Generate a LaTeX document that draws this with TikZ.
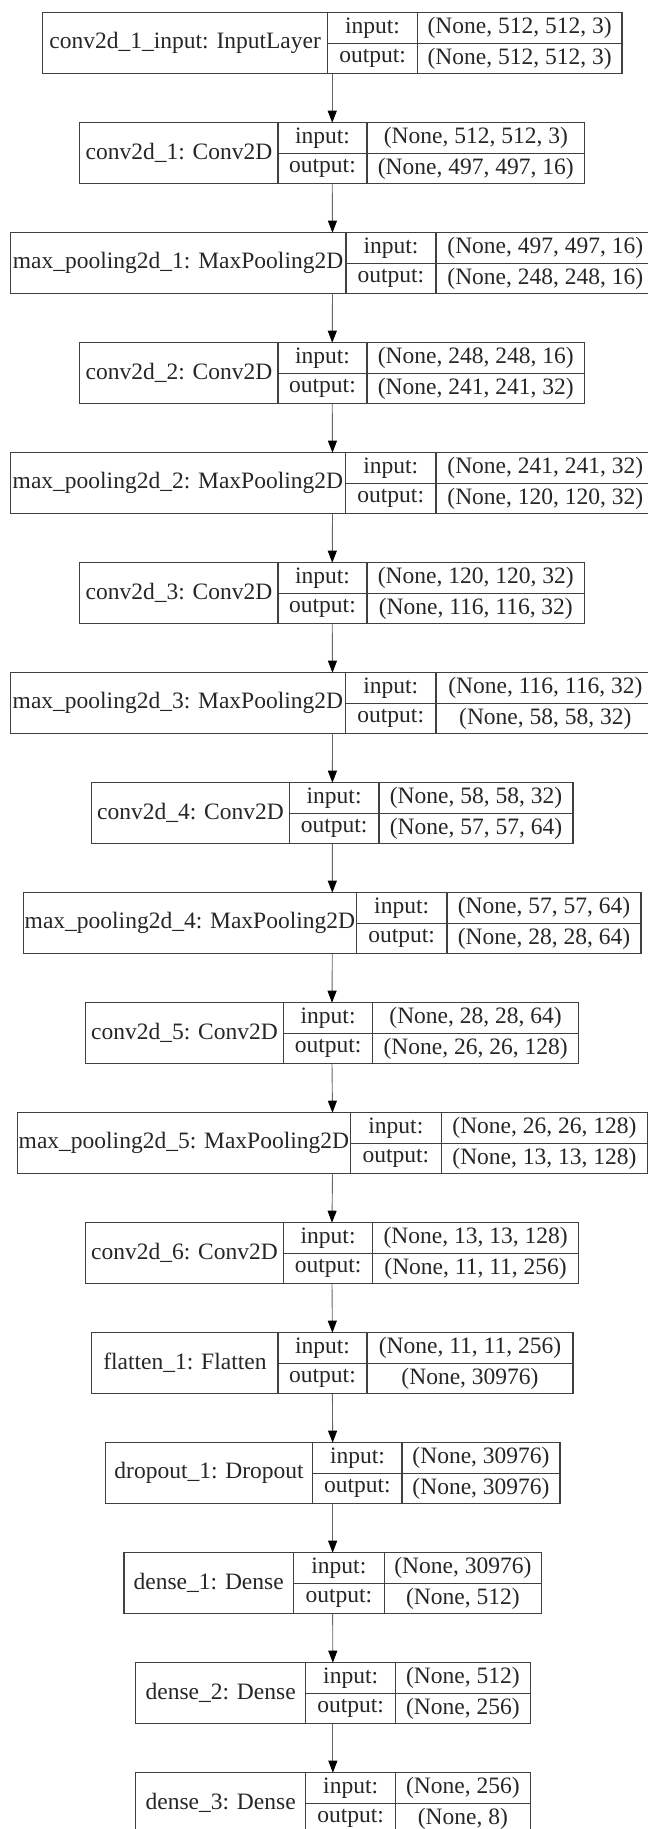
\documentclass[tikz,border=0pt]{standalone}
\usepackage{fontspec}
\setmainfont{Liberation Serif}
\usetikzlibrary{arrows.meta}

\tikzset{
  cell/.style={draw=black!75, line width=1.3pt, inner sep=0pt, outer sep=0pt,
    anchor=north west, text=black!85},
  frame/.style={inner sep=0pt, outer sep=0pt, minimum height=61pt, anchor=north west},
  link/.style={draw=black!60, line width=0.9pt, -{Triangle[length=12pt, width=9pt, black]}}
}

% one layer: name, row, left, divider 1, divider 2, right, label, input, output
\newcommand{\nnlayer}[9]{%
  \node[frame, minimum width={(#6-#3)*1pt}] (#1) at (#3, 12.7+110*#2) {};
  \node[cell, minimum width={(#4-#3)*1pt}, minimum height=61pt] (#1-name) at (#1.north west) {#7};
  \node[cell, minimum width={(#5-#4)*1pt}, minimum height=30.5pt] (#1-in) at (#1-name.north east) {input:};
  \node[cell, minimum width={(#6-#5)*1pt}, minimum height=30.5pt] (#1-inval) at (#1-in.north east) {#8};
  \node[cell, minimum width={(#5-#4)*1pt}, minimum height=30.5pt] (#1-out) at (#1-in.south west) {output:};
  \node[cell, minimum width={(#6-#5)*1pt}, minimum height=30.5pt] (#1-outval) at (#1-out.north east) {#9};
}

\begin{document}
\begin{tikzpicture}[x=1pt, y=-1pt, font=\fontsize{23.5}{28}\selectfont]
    \path[use as bounding box, clip] (0,0) rectangle (648,1829);
    % Couches
    \nnlayer{L0}{0}{42.6}{327.7}{417.4}{621.9}{conv2d\_1\_input: InputLayer}{(None, 512, 512, 3)}{(None, 512, 512, 3)}
    \nnlayer{L1}{1}{79.8}{278.1}{366.9}{584.7}{conv2d\_1: Conv2D}{(None, 512, 512, 3)}{(None, 497, 497, 16)}
    \nnlayer{L2}{2}{10.3}{345.9}{436}{654.7}{max\_pooling2d\_1: MaxPooling2D}{(None, 497, 497, 16)}{(None, 248, 248, 16)}
    \nnlayer{L3}{3}{79.8}{278.1}{366.9}{584.7}{conv2d\_2: Conv2D}{(None, 248, 248, 16)}{(None, 241, 241, 32)}
    \nnlayer{L4}{4}{10.3}{345.5}{436}{654.7}{max\_pooling2d\_2: MaxPooling2D}{(None, 241, 241, 32)}{(None, 120, 120, 32)}
    \nnlayer{L5}{5}{79.8}{278.1}{366.9}{584.7}{conv2d\_3: Conv2D}{(None, 120, 120, 32)}{(None, 116, 116, 32)}
    \nnlayer{L6}{6}{10.3}{345.5}{436}{654.7}{max\_pooling2d\_3: MaxPooling2D}{(None, 116, 116, 32)}{(None, 58, 58, 32)}
    \nnlayer{L7}{7}{91.7}{289.3}{378.9}{573.1}{conv2d\_4: Conv2D}{(None, 58, 58, 32)}{(None, 57, 57, 64)}
    \nnlayer{L8}{8}{23.6}{356.2}{447.1}{641}{max\_pooling2d\_4: MaxPooling2D}{(None, 57, 57, 64)}{(None, 28, 28, 64)}
    \nnlayer{L9}{9}{85.5}{283.5}{372.7}{578.5}{conv2d\_5: Conv2D}{(None, 28, 28, 64)}{(None, 26, 26, 128)}
    \nnlayer{L10}{10}{17.4}{350.4}{441.3}{647.6}{max\_pooling2d\_5: MaxPooling2D}{(None, 26, 26, 128)}{(None, 13, 13, 128)}
    \nnlayer{L11}{11}{85.5}{283.5}{372.7}{578.5}{conv2d\_6: Conv2D}{(None, 13, 13, 128)}{(None, 11, 11, 256)}
    \nnlayer{L12}{12}{91.7}{278.1}{366.9}{573.1}{flatten\_1: Flatten}{(None, 11, 11, 256)}{(None, 30976)}
    \nnlayer{L13}{13}{105.4}{312.8}{402.1}{559.9}{dropout\_1: Dropout}{(None, 30976)}{(None, 30976)}
    \nnlayer{L14}{14}{124}{293.4}{384.3}{541.3}{dense\_1: Dense}{(None, 30976)}{(None, 512)}
    \nnlayer{L15}{15}{135.5}{305.8}{395.5}{530.2}{dense\_2: Dense}{(None, 512)}{(None, 256)}
    \nnlayer{L16}{16}{135.5}{305.8}{395.5}{530.2}{dense\_3: Dense}{(None, 256)}{(None, 8)}
    % Fleches
    \foreach \j [count=\i from 0] in {1,...,16}
        \draw[link] (L\i.south) -- (L\j.north);
\end{tikzpicture}
\end{document}
